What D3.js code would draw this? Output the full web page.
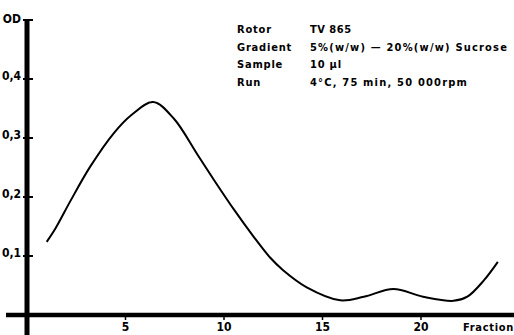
<!DOCTYPE html>
<html>
<head>
<meta charset="utf-8">
<script src="https://cdn.jsdelivr.net/npm/d3@7"></script>
<style>
  body { margin: 0; background: #fff; }
  svg text { font-family: "DejaVu Sans Condensed", "Liberation Sans Narrow", sans-serif; font-weight: bold; fill: #000; }
</style>
</head>
<body>
<div id="chart-area"></div>
<script>
// fraction number vs optical density
var fractions = [1.0, 1.45, 2.2, 3.2, 4.4, 5.3, 6.4, 7.45, 8.65, 9.45, 10.5, 11.5, 12.35, 13.0, 14.2, 15.9, 17.1, 18.6, 20.1, 21.65, 22.35, 23.2, 23.9];
var od = [0.124, 0.147, 0.193, 0.251, 0.308, 0.339, 0.361, 0.333, 0.272, 0.231, 0.179, 0.133, 0.097, 0.076, 0.047, 0.025, 0.031, 0.044, 0.031, 0.024, 0.031, 0.059, 0.09];
var xTicks = [5, 10, 15, 20];
var yTicks = [0.1, 0.2, 0.3, 0.4];
var infoLabels = ["Rotor", "Gradient", "Sample", "Run"];
var infoValues = ["TV 865", "5%(w/w) \u2014 20%(w/w) Sucrose", "10 \u00b5l", "4\u00b0C, 75 min, 50 000rpm"];
var infoSpacing = [0.5, 1.2, 0.8, 1.2];

var width = 514, height = 335;

var svg = d3.select("#chart-area")
  .append("svg")
    .attr("width", width)
    .attr("height", height);

var x = d3.scaleLinear().domain([0, 25]).range([27, 519.5]);
var y = d3.scaleLinear().domain([0, 0.5]).range([315, 20]);

// x axis (heavy bar)
svg.append("line")
  .attr("x1", 6).attr("x2", width)
  .attr("y1", y(0)).attr("y2", y(0))
  .attr("stroke", "#000").attr("stroke-width", 4.5);

svg.selectAll(".xtick")
  .data(xTicks)
  .enter().append("line")
  .attr("x1", function(d) { return x(d); })
  .attr("x2", function(d) { return x(d); })
  .attr("y1", y(0)).attr("y2", y(0) + 5)
  .attr("stroke", "#000").attr("stroke-width", 1.5);

svg.selectAll(".xlab")
  .data(xTicks)
  .enter().append("text")
  .attr("x", function(d) { return x(d); })
  .attr("y", 331)
  .attr("text-anchor", "middle")
  .style("font-size", "12px")
  .text(function(d) { return d; });

svg.append("text")
  .attr("x", 463)
  .attr("y", 331)
  .style("font-size", "11px")
  .style("letter-spacing", "0.7px")
  .text("Fraction");

// y axis
svg.append("line")
  .attr("x1", x(0)).attr("x2", x(0))
  .attr("y1", y(0.5) - 1).attr("y2", height)
  .attr("stroke", "#000").attr("stroke-width", 5);

svg.selectAll(".ytick")
  .data(yTicks.concat([0.5]))
  .enter().append("line")
  .attr("x1", x(0) - 4).attr("x2", x(0) + 6)
  .attr("y1", function(d) { return y(d); })
  .attr("y2", function(d) { return y(d); })
  .attr("stroke", "#000").attr("stroke-width", 2);

svg.selectAll(".ylab")
  .data(yTicks)
  .enter().append("text")
  .attr("x", 21)
  .attr("y", function(d) { return y(d) + 1; })
  .attr("text-anchor", "end")
  .style("font-size", "12px")
  .text(function(d) { return String(d).replace(".", ","); });

svg.append("text")
  .attr("x", 21)
  .attr("y", y(0.5) + 3)
  .attr("text-anchor", "end")
  .style("font-size", "12px")
  .text("OD");

// curve
var line = d3.line()
  .x(function(d, i) { return x(fractions[i]); })
  .y(function(d) { return y(d); })
  .curve(d3.curveCatmullRom.alpha(0.5));

svg.append("path")
  .datum(od)
  .attr("d", line)
  .attr("fill", "none")
  .attr("stroke", "#000")
  .attr("stroke-width", 2);

// run conditions
var info = svg.append("g").style("font-size", "11px");
info.selectAll(".il")
  .data(infoLabels)
  .enter().append("text")
  .attr("x", 237)
  .attr("y", function(d, i) { return 33 + i * 17.5; })
  .style("letter-spacing", "0.8px")
  .text(function(d) { return d; });
info.selectAll(".iv")
  .data(infoValues)
  .enter().append("text")
  .attr("x", 310)
  .attr("y", function(d, i) { return 33 + i * 17.5; })
  .style("letter-spacing", function(d, i) { return infoSpacing[i] + "px"; })
  .text(function(d) { return d; });
</script>
</body>
</html>
